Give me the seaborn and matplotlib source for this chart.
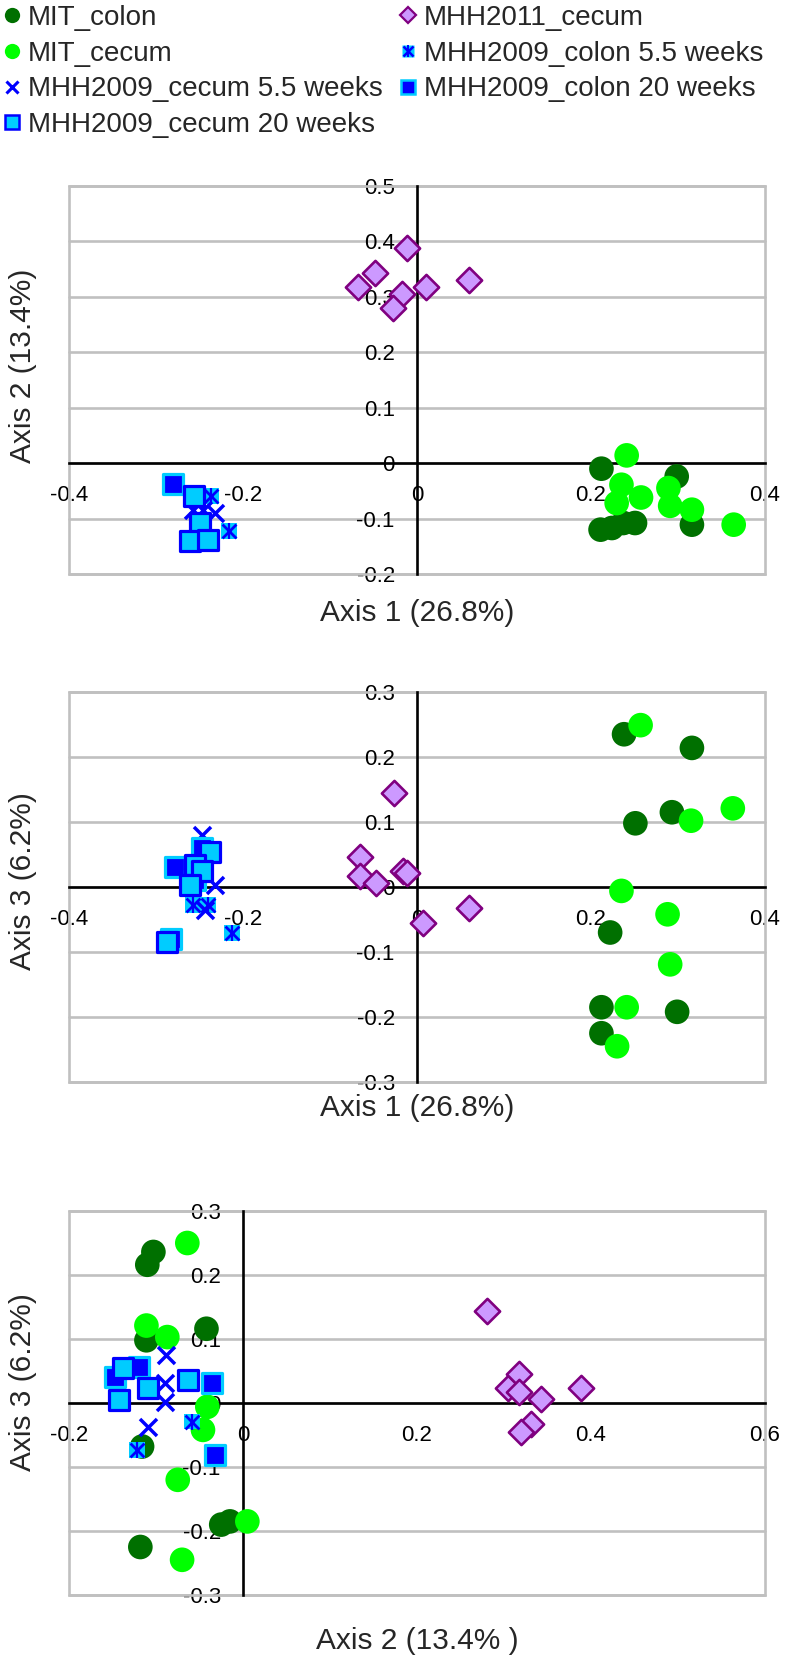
import numpy as np
import pandas as pd
import matplotlib
matplotlib.use("Agg")
import matplotlib.pyplot as plt
import seaborn as sns
from matplotlib.lines import Line2D
from matplotlib.legend_handler import HandlerTuple
from matplotlib.patches import Rectangle

sns.set_theme(style="white")
plt.rcParams["font.family"] = ["Liberation Sans", "DejaVu Sans"]
plt.rcParams["axes.unicode_minus"] = False

# ---------------- data ----------------
groups = ["MIT_colon", "MHH2011_cecum", "MIT_cecum", "MHH2009_colon 5.5 weeks",
          "MHH2009_cecum 5.5 weeks", "MHH2009_colon 20 weeks", "MHH2009_cecum 20 weeks"]

# Panel 1: Axis 1 (x) vs Axis 2 (y)
p1_mit_colon_x = [0.212, 0.2985, 0.211, 0.224, 0.237, 0.2506, 0.316]
p1_mit_colon_y = [-0.010, -0.024, -0.120, -0.117, -0.108, -0.108, -0.111]
p1_mhh2011_x = [-0.0675, -0.048, -0.011, -0.0176, -0.028, 0.0103, 0.0598]
p1_mhh2011_y = [0.3175, 0.343, 0.388, 0.305, 0.280, 0.3186, 0.3306]
p1_mit_cecum_x = [0.241, 0.235, 0.2295, 0.2575, 0.289, 0.291, 0.316, 0.364]
p1_mit_cecum_y = [0.014, -0.039, -0.072, -0.062, -0.045, -0.077, -0.084, -0.111]
p1_colon55_x = [-0.237, -0.216]
p1_colon55_y = [-0.059, -0.122]
p1_cecum55_x = [-0.257, -0.246, -0.232]
p1_cecum55_y = [-0.084, -0.084, -0.090]
p1_colon20_x = [-0.280]
p1_colon20_y = [-0.037]
p1_cecum20_x = [-0.256, -0.249, -0.261, -0.240]
p1_cecum20_y = [-0.060, -0.108, -0.140, -0.138]

# Panel 2: Axis 1 (x) vs Axis 3 (y)
p2_mit_colon_x = [0.238, 0.316, 0.251, 0.293, 0.222, 0.212, 0.212, 0.299]
p2_mit_colon_y = [0.235, 0.214, 0.098, 0.115, -0.070, -0.185, -0.225, -0.192]
p2_mhh2011_x = [-0.027, -0.066, -0.066, -0.047, -0.016, -0.011, 0.060, 0.007]
p2_mhh2011_y = [0.144, 0.046, 0.017, 0.006, 0.024, 0.021, -0.033, -0.055]
p2_mit_cecum_x = [0.257, 0.315, 0.363, 0.235, 0.288, 0.291, 0.241, 0.230]
p2_mit_cecum_y = [0.249, 0.102, 0.121, -0.006, -0.042, -0.119, -0.185, -0.245]
p2_colon55_x = [-0.257, -0.240, -0.213]
p2_colon55_y = [-0.028, -0.028, -0.071]
p2_cecum55_x = [-0.247, -0.232, -0.244]
p2_cecum55_y = [0.080, 0.003, -0.035]
p2_colon20_x = [-0.247, -0.278, -0.255, -0.283]
p2_colon20_y = [0.060, 0.031, 0.011, -0.080]
p2_cecum20_x = [-0.238, -0.255, -0.247, -0.261, -0.287]
p2_cecum20_y = [0.054, 0.034, 0.024, 0.003, -0.085]

# Panel 3: Axis 2 (x) vs Axis 3 (y)
p3_mit_colon_x = [-0.103, -0.110, -0.111, -0.042, -0.116, -0.015, -0.025, -0.118]
p3_mit_colon_y = [0.236, 0.216, 0.098, 0.116, -0.068, -0.185, -0.190, -0.225]
p3_mhh2011_x = [0.280, 0.388, 0.343, 0.331, 0.319, 0.305, 0.3175, 0.3175]
p3_mhh2011_y = [0.144, 0.024, 0.006, -0.033, -0.046, 0.024, 0.046, 0.017]
p3_mit_cecum_x = [-0.064, -0.111, -0.087, -0.041, -0.046, -0.075, 0.005, -0.070]
p3_mit_cecum_y = [0.250, 0.121, 0.103, -0.006, -0.042, -0.120, -0.185, -0.245]
p3_colon55_x = [-0.059, -0.122]
p3_colon55_y = [-0.029, -0.073]
p3_cecum55_x = [-0.0885, -0.090, -0.090, -0.109]
p3_cecum55_y = [0.075, 0.031, 0.001, -0.037]
p3_colon20_x = [-0.147, -0.120, -0.036, -0.032]
p3_colon20_y = [0.041, 0.056, 0.031, -0.081]
p3_cecum20_x = [-0.138, -0.143, -0.109, -0.063]
p3_cecum20_y = [0.054, 0.004, 0.023, 0.036]

# ---------------- styles ----------------
DKGREEN = "#007000"
LTGREEN = "#00FF00"
LILAC = "#CC99FF"
PURPLE = "#800080"
BLUE = "#0000FF"
CYAN = "#00CCFF"


def panel_frame(xs, ys):
    rows = []
    for g, x, y in zip(groups, xs, ys):
        for a, b in zip(x, y):
            rows.append((g, a, b))
    return pd.DataFrame(rows, columns=["group", "x", "y"])


def draw_points(ax, df):
    for g in groups:
        sub = df[df["group"] == g]
        if g == "MIT_colon":
            sns.scatterplot(data=sub, x="x", y="y", ax=ax, marker="o", s=315,
                            color=DKGREEN, edgecolor="none", linewidth=0, zorder=3, legend=False)
        elif g == "MIT_cecum":
            sns.scatterplot(data=sub, x="x", y="y", ax=ax, marker="o", s=315,
                            color=LTGREEN, edgecolor="none", linewidth=0, zorder=3, legend=False)
        elif g == "MHH2011_cecum":
            sns.scatterplot(data=sub, x="x", y="y", ax=ax, marker="D", s=165,
                            color=LILAC, edgecolor=PURPLE, linewidth=1.9, zorder=3, legend=False)
        elif g == "MHH2009_colon 5.5 weeks":
            sns.scatterplot(data=sub, x="x", y="y", ax=ax, marker="s", s=130,
                            color=CYAN, edgecolor="none", linewidth=0, zorder=3, legend=False)
            sns.scatterplot(data=sub, x="x", y="y", ax=ax, marker="x", s=100,
                            color=BLUE, linewidth=2.0, zorder=3, legend=False)
            sns.scatterplot(data=sub, x="x", y="y", ax=ax, marker="|", s=120,
                            color=BLUE, linewidth=1.6, zorder=3, legend=False)
        elif g == "MHH2009_cecum 5.5 weeks":
            sns.scatterplot(data=sub, x="x", y="y", ax=ax, marker="x", s=150,
                            color=BLUE, linewidth=2.5, zorder=3, legend=False)
        elif g == "MHH2009_colon 20 weeks":
            sns.scatterplot(data=sub, x="x", y="y", ax=ax, marker="s", s=190,
                            color=BLUE, edgecolor=CYAN, linewidth=2.3, zorder=3, legend=False)
        elif g == "MHH2009_cecum 20 weeks":
            sns.scatterplot(data=sub, x="x", y="y", ax=ax, marker="s", s=190,
                            color=CYAN, edgecolor=BLUE, linewidth=2.3, zorder=3, legend=False)


def fmt(v):
    return "0" if abs(v) < 1e-9 else f"{v:.1f}"


def style_axis(ax, xlim, ylim, xticks, yticks):
    ax.set_xlim(xlim)
    ax.set_ylim(ylim)
    ax.set_xticks(xticks)
    ax.set_yticks(yticks)
    ax.set_xticklabels([fmt(v) for v in xticks])
    ax.set_yticklabels([fmt(v) for v in yticks])
    ax.grid(False)
    for yv in yticks:
        ax.axhline(yv, color="#C0C0C0", lw=1.9, zorder=0.5, clip_on=False)
    ax.add_patch(Rectangle((0, 0), 1, 1, transform=ax.transAxes, fill=False,
                           ec="#C0C0C0", lw=1.9, zorder=0.6, clip_on=False))
    ax.spines["left"].set_position(("data", 0))
    ax.spines["bottom"].set_position(("data", 0))
    ax.spines["right"].set_visible(False)
    ax.spines["top"].set_visible(False)
    for s in ("left", "bottom"):
        ax.spines[s].set_color("black")
        ax.spines[s].set_linewidth(1.9)
        ax.spines[s].set_zorder(2)
    ax.tick_params(axis="both", direction="out", length=4, width=1.6,
                   color="black", labelsize=16, labelcolor="black")
    ax.tick_params(axis="x", pad=12)
    ax.tick_params(axis="y", pad=12)
    ax.set_xlabel("")
    ax.set_ylabel("")
    ax.set_facecolor("white")


W, H = 789, 1666
fig = plt.figure(figsize=(W / 100, H / 100), dpi=100)


def add_axes(l, r, t, b):
    return fig.add_axes([l / W, 1 - b / H, (r - l) / W, (b - t) / H])


ax1 = add_axes(69, 765, 186, 574)
ax2 = add_axes(69, 765, 692, 1082)
ax3 = add_axes(69, 765, 1211, 1595)

df1 = panel_frame(
    [p1_mit_colon_x, p1_mhh2011_x, p1_mit_cecum_x, p1_colon55_x, p1_cecum55_x, p1_colon20_x, p1_cecum20_x],
    [p1_mit_colon_y, p1_mhh2011_y, p1_mit_cecum_y, p1_colon55_y, p1_cecum55_y, p1_colon20_y, p1_cecum20_y])
df2 = panel_frame(
    [p2_mit_colon_x, p2_mhh2011_x, p2_mit_cecum_x, p2_colon55_x, p2_cecum55_x, p2_colon20_x, p2_cecum20_x],
    [p2_mit_colon_y, p2_mhh2011_y, p2_mit_cecum_y, p2_colon55_y, p2_cecum55_y, p2_colon20_y, p2_cecum20_y])
df3 = panel_frame(
    [p3_mit_colon_x, p3_mhh2011_x, p3_mit_cecum_x, p3_colon55_x, p3_cecum55_x, p3_colon20_x, p3_cecum20_x],
    [p3_mit_colon_y, p3_mhh2011_y, p3_mit_cecum_y, p3_colon55_y, p3_cecum55_y, p3_colon20_y, p3_cecum20_y])

draw_points(ax1, df1)
draw_points(ax2, df2)
draw_points(ax3, df3)

style_axis(ax1, (-0.4, 0.4), (-0.2, 0.5), [-0.4, -0.2, 0, 0.2, 0.4],
           [0.5, 0.4, 0.3, 0.2, 0.1, 0, -0.1, -0.2])
style_axis(ax2, (-0.4, 0.4), (-0.3, 0.3), [-0.4, -0.2, 0, 0.2, 0.4],
           [0.3, 0.2, 0.1, 0, -0.1, -0.2, -0.3])
style_axis(ax3, (-0.2, 0.6), (-0.3, 0.3), [-0.2, 0, 0.2, 0.4, 0.6],
           [0.3, 0.2, 0.1, 0, -0.1, -0.2, -0.3])

# axis titles
AFS = 21.5
fig.text(417 / W, 1 - 613 / H, "Axis 1 (26.8%)", ha="center", va="center", fontsize=AFS)
fig.text(23 / W, 1 - 366 / H, "Axis 2 (13.4%)", ha="center", va="center", fontsize=AFS, rotation=90)
fig.text(417 / W, 1 - 1108 / H, "Axis 1 (26.8%)", ha="center", va="center", fontsize=AFS)
fig.text(23 / W, 1 - 881 / H, "Axis 3 (6.2%)", ha="center", va="center", fontsize=AFS, rotation=90)
fig.text(417 / W, 1 - 1641 / H, "Axis 2 (13.4% )", ha="center", va="center", fontsize=AFS)
fig.text(23 / W, 1 - 1382 / H, "Axis 3 (6.2%)", ha="center", va="center", fontsize=AFS, rotation=90)

# legend
LFS = 20
h_colon = Line2D([], [], ls="none", marker="o", ms=11, mfc=DKGREEN, mec="none")
h_cecum = Line2D([], [], ls="none", marker="o", ms=11, mfc=LTGREEN, mec="none")
h_cec55 = Line2D([], [], ls="none", marker="x", ms=8, mec=BLUE, mew=2.2)
h_cec20 = Line2D([], [], ls="none", marker="s", ms=10, mfc=CYAN, mec=BLUE, mew=1.8)
h_mhh11 = Line2D([], [], ls="none", marker="D", ms=8.5, mfc=LILAC, mec=PURPLE, mew=1.6)
h_col55 = (Line2D([], [], ls="none", marker="s", ms=9, mfc=CYAN, mec="none"),
           Line2D([], [], ls="none", marker="x", ms=7, mec=BLUE, mew=1.8),
           Line2D([], [], ls="none", marker="|", ms=8, mec=BLUE, mew=1.4))
h_col20 = Line2D([], [], ls="none", marker="s", ms=10, mfc=BLUE, mec=CYAN, mew=1.8)

common = dict(loc="upper left", frameon=False, fontsize=LFS, handlelength=0.6,
              handletextpad=0.25, labelspacing=0.35, borderpad=0.0, borderaxespad=0.0,
              handler_map={tuple: HandlerTuple(ndivide=1, pad=0)})
leg1 = fig.legend([h_colon, h_cecum, h_cec55, h_cec20],
                  ["MIT_colon", "MIT_cecum", "MHH2009_cecum 5.5 weeks", "MHH2009_cecum 20 weeks"],
                  bbox_to_anchor=(4 / W, 1 - 5 / H), **common)
leg2 = fig.legend([h_mhh11, h_col55, h_col20],
                  ["MHH2011_cecum", "MHH2009_colon 5.5 weeks", "MHH2009_colon 20 weeks"],
                  bbox_to_anchor=(400 / W, 1 - 5 / H), **common)

fig.savefig("out.png", dpi=100, facecolor="white")
